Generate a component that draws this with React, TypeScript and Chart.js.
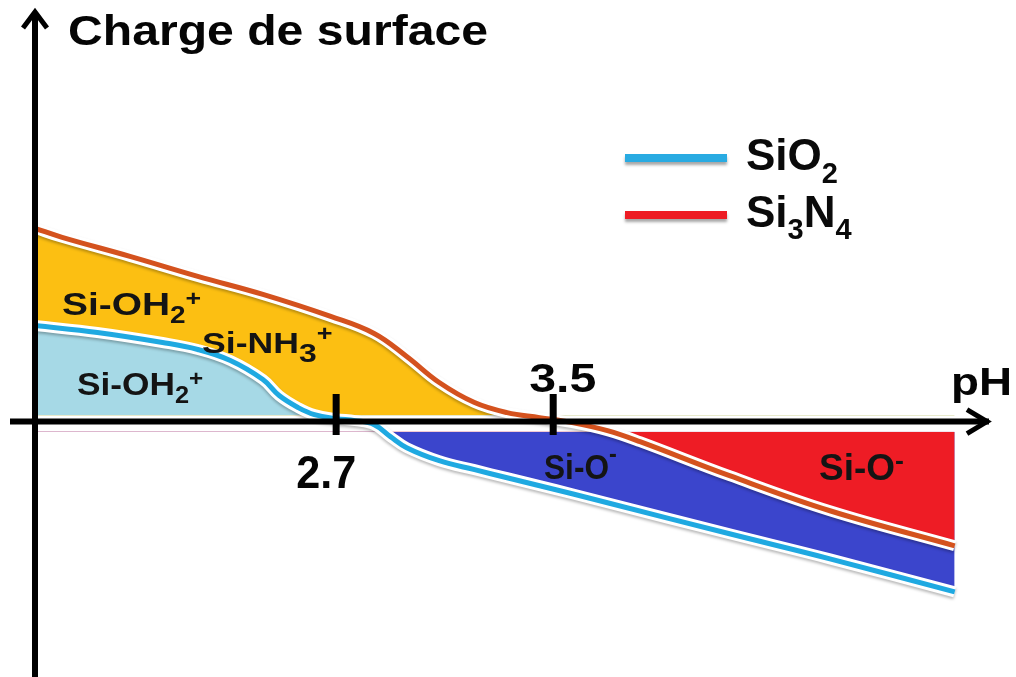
import React, { useEffect, useRef } from 'react';
import { Chart, registerables } from 'chart.js';

Chart.register(...registerables);

// ---------- data ----------
const phMin = 1.59;
const phMax = 5.11;
const chargeMin = -2.5;
const chargeMax = 4;

const seriesNames = ['SiO2', 'Si3N4'];

const si3n4Ph = [1.59, 1.69, 1.94, 2.19, 2.43, 2.68, 2.84, 2.96, 3.08, 3.21, 3.33, 3.45, 3.57, 3.70, 3.82, 4.15, 4.52, 4.98];
const si3n4Charge = [1.93, 1.84, 1.65, 1.45, 1.27, 1.05, 0.88, 0.65, 0.39, 0.19, 0.09, 0.04, -0.01, -0.09, -0.20, -0.54, -0.89, -1.24];

const sio2Ph = [1.59, 1.82, 2.06, 2.19, 2.31, 2.43, 2.49, 2.56, 2.62, 2.70, 2.77, 2.84, 2.90, 2.96, 3.08, 3.21, 3.33, 3.45, 3.57, 3.70, 4.15, 4.52, 4.98];
const sio2Charge = [0.96, 0.89, 0.79, 0.72, 0.61, 0.42, 0.26, 0.14, 0.07, 0.03, 0.01, -0.03, -0.15, -0.26, -0.39, -0.48, -0.56, -0.64, -0.72, -0.81, -1.12, -1.37, -1.70];

const tickValues = [2.7, 3.5];
const tickLabels = ['2.7', '3.5'];

const positiveFillLevel = 0.06;
const negativeFillLevel = -0.1;

// ---------- styles ----------
const CYAN = '#1fa9e1';
const BROWN = '#d4521e';
const ORANGE = '#fcbf12';
const LIGHTBLUE = '#a6d9e6';
const DARKBLUE = '#3b45cc';
const RED = '#ee1c25';
const LEGEND_CYAN = '#29abe2';
const LEGEND_RED = '#ed1c24';
const CLEAR = 'rgba(0,0,0,0)';
const TEXT = '#141414';
const FONT = '"Liberation Sans", Arial, sans-serif';

type Part = { t: string; size: number; dy?: number };
type Label = { x: number; y: number; w?: number; color: string; parts: Part[] };

const titleLabel: Label = { x: 68, y: 44.5, w: 420, color: '#050505', parts: [{ t: 'Charge de surface', size: 43 }] };
const axisLabel: Label = { x: 951, y: 395, w: 61, color: '#050505', parts: [{ t: 'pH', size: 39 }] };

const tickLabelStyle = [
  { dx: -40, y: 488, size: 46, w: 60 },
  { dx: -24, y: 392, size: 40, w: 67 },
];

const regionLabels: Label[] = [
  { x: 62, y: 315, w: 108, color: TEXT, parts: [{ t: 'Si-OH', size: 32 }, { t: '2', size: 23, dy: 8 }, { t: '+', size: 22, dy: -9 }] },
  { x: 202, y: 353, w: 97, color: TEXT, parts: [{ t: 'Si-NH', size: 29 }, { t: '3', size: 26, dy: 9 }, { t: '+', size: 22, dy: -12 }] },
  { x: 77, y: 395, w: 98, color: TEXT, parts: [{ t: 'Si-OH', size: 32 }, { t: '2', size: 23, dy: 8 }, { t: '+', size: 22, dy: -9 }] },
  { x: 544, y: 478.5, w: 65, color: TEXT, parts: [{ t: 'Si-O', size: 35 }, { t: '-', size: 26, dy: -17 }] },
  { x: 819, y: 480, w: 76, color: TEXT, parts: [{ t: 'Si-O', size: 36 }, { t: '-', size: 26, dy: -11 }] },
];

const legendLabels: Label[] = [
  { x: 746, y: 170, color: '#0a0a0a', parts: [{ t: 'SiO', size: 44 }, { t: '2', size: 29, dy: 13 }] },
  { x: 746, y: 227, color: '#0a0a0a', parts: [{ t: 'Si', size: 44 }, { t: '3', size: 29, dy: 12 }, { t: 'N', size: 44 }, { t: '4', size: 29, dy: 12 }] },
];
const legendColors = [LEGEND_CYAN, LEGEND_RED];
const legendLineY = [158, 215];

function drawRich(ctx: CanvasRenderingContext2D, l: Label) {
  ctx.save();
  ctx.fillStyle = l.color;
  ctx.textBaseline = 'alphabetic';
  ctx.textAlign = 'left';
  ctx.font = `bold ${l.parts[0].size}px ${FONT}`;
  const natural = ctx.measureText(l.parts[0].t).width;
  const sx = l.w ? l.w / natural : 1;
  ctx.translate(l.x, 0);
  ctx.scale(sx, 1);
  let cx = 0;
  for (const p of l.parts) {
    ctx.font = `bold ${p.size}px ${FONT}`;
    ctx.fillText(p.t, cx, l.y + (p.dy || 0));
    cx += ctx.measureText(p.t).width;
  }
  ctx.restore();
}

const overlayPlugin = {
  id: 'overlay',
  beforeDatasetDraw(chart: any, args: any) {
    if (args.index === 2 || args.index === 3) {
      const ctx = chart.ctx;
      ctx.save();
      ctx.shadowColor = 'rgba(0,0,0,0.28)';
      ctx.shadowBlur = 3;
      ctx.shadowOffsetY = 2;
    }
  },
  afterDatasetDraw(chart: any, args: any) {
    if (args.index === 2 || args.index === 3) chart.ctx.restore();
  },
  afterDatasetsDraw(chart: any) {
    const ctx: CanvasRenderingContext2D = chart.ctx;
    const xs = chart.scales.x;
    const ys = chart.scales.y;
    const x0 = xs.getPixelForValue(phMin);
    const y0 = ys.getPixelForValue(0);
    const xEnd = xs.getPixelForValue(phMax);
    ctx.save();
    ctx.strokeStyle = '#000';
    ctx.lineCap = 'butt';
    // y axis
    ctx.lineWidth = 6;
    ctx.beginPath();
    ctx.moveTo(x0, 12);
    ctx.lineTo(x0, chart.height);
    ctx.stroke();
    // x axis
    ctx.beginPath();
    ctx.moveTo(10, y0);
    ctx.lineTo(xEnd - 1, y0);
    ctx.stroke();
    // arrows
    ctx.lineWidth = 5;
    ctx.lineJoin = 'miter';
    ctx.beginPath();
    ctx.moveTo(x0 - 12, 28);
    ctx.lineTo(x0, 12);
    ctx.lineTo(x0 + 12, 28);
    ctx.stroke();
    ctx.beginPath();
    ctx.moveTo(xEnd - 23, y0 - 12);
    ctx.lineTo(xEnd - 3, y0);
    ctx.lineTo(xEnd - 23, y0 + 12);
    ctx.stroke();
    // ticks
    ctx.lineWidth = 7;
    tickValues.forEach((v, i) => {
      const px = xs.getPixelForValue(v);
      ctx.beginPath();
      ctx.moveTo(px, 394);
      ctx.lineTo(px, 435);
      ctx.stroke();
      const st = tickLabelStyle[i];
      drawRich(ctx, { x: px + st.dx, y: st.y, w: st.w, color: '#050505', parts: [{ t: tickLabels[i], size: st.size }] });
    });
    ctx.restore();

    drawRich(ctx, titleLabel);
    drawRich(ctx, axisLabel);
    regionLabels.forEach((l) => drawRich(ctx, l));

    // legend
    ctx.save();
    ctx.lineWidth = 8;
    ctx.lineCap = 'butt';
    ctx.shadowColor = 'rgba(0,0,0,0.35)';
    ctx.shadowBlur = 3;
    ctx.shadowOffsetY = 3;
    legendColors.forEach((c, i) => {
      ctx.strokeStyle = c;
      ctx.beginPath();
      ctx.moveTo(625, legendLineY[i]);
      ctx.lineTo(727, legendLineY[i]);
      ctx.stroke();
    });
    ctx.restore();
    legendLabels.forEach((l) => drawRich(ctx, l));
  },
};

export default function App() {
  const ref = useRef<HTMLCanvasElement>(null);
  useEffect(() => {
    const canvas = ref.current;
    if (!canvas) return;
    const pts = (xs: number[], ys: number[]) => xs.map((x, i) => ({ x, y: ys[i] }));
    const sio2 = pts(sio2Ph, sio2Charge);
    const si3n4 = pts(si3n4Ph, si3n4Charge);
    const base = {
      pointRadius: 0,
      pointHoverRadius: 0,
      tension: 0.4,
    };
    const chart = new Chart(canvas, {
      type: 'line',
      data: {
        datasets: [
          { ...base, label: seriesNames[0], data: sio2, borderColor: CYAN, borderWidth: 5, fill: false },
          { ...base, label: seriesNames[1], data: si3n4, borderColor: BROWN, borderWidth: 5, fill: false },
          { ...base, label: 'halo-sio2', data: sio2, borderColor: '#ffffff', borderWidth: 11, fill: false },
          { ...base, label: 'halo-si3n4', data: si3n4, borderColor: '#ffffff', borderWidth: 11, fill: false },
          { ...base, label: 'Si-O- (Si3N4)', data: si3n4, borderColor: CLEAR, borderWidth: 0, fill: { target: { value: negativeFillLevel }, above: CLEAR, below: RED } },
          { ...base, label: 'Si-O- (SiO2)', data: sio2, borderColor: CLEAR, borderWidth: 0, fill: { target: { value: negativeFillLevel }, above: CLEAR, below: DARKBLUE } },
          { ...base, label: 'Si-OH2+ (SiO2)', data: sio2, borderColor: CLEAR, borderWidth: 0, fill: { target: { value: positiveFillLevel }, above: LIGHTBLUE, below: CLEAR } },
          { ...base, label: 'Si-NH3+ (Si3N4)', data: si3n4, borderColor: CLEAR, borderWidth: 0, fill: { target: { value: positiveFillLevel }, above: ORANGE, below: CLEAR } },
        ] as any,
      },
      options: {
        animation: false,
        responsive: false,
        devicePixelRatio: 1,
        events: [],
        layout: { padding: { left: 35, right: 26, top: 21, bottom: 5 } },
        scales: {
          x: { type: 'linear', min: phMin, max: phMax, display: false },
          y: { type: 'linear', min: chargeMin, max: chargeMax, display: false },
        },
        plugins: {
          legend: { display: false },
          tooltip: { enabled: false },
        },
      },
      plugins: [overlayPlugin],
    });
    return () => chart.destroy();
  }, []);
  return (
    <div style={{ position: 'fixed', left: 0, top: 0, width: 1016, height: 677, background: '#ffffff' }}>
      <canvas ref={ref} width={1016} height={677} style={{ display: 'block' }} />
    </div>
  );
}
